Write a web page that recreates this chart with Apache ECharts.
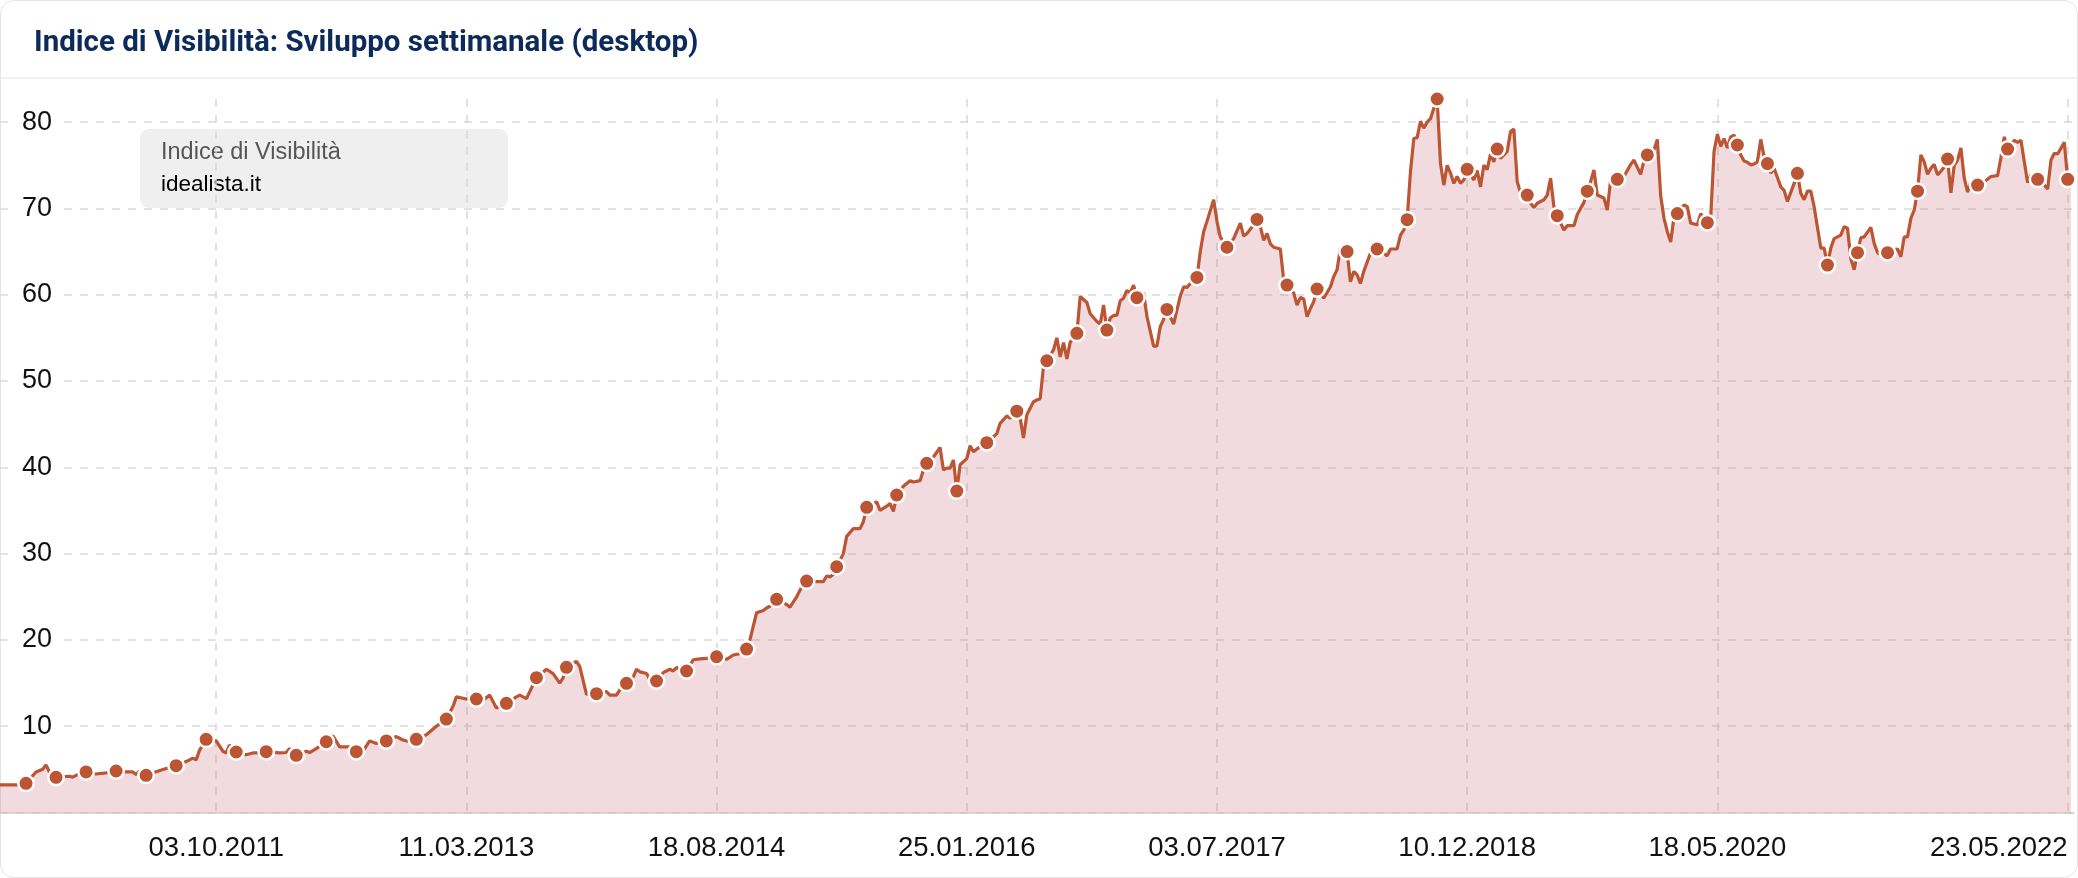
<!DOCTYPE html>
<html><head><meta charset="utf-8">
<script src="https://cdn.jsdelivr.net/npm/echarts@6/dist/echarts.min.js"></script>
<style>
html,body{margin:0;padding:0;background:#fff;}
#card{position:absolute;left:0;top:0;width:2076px;height:876px;border:1px solid #e4e4e4;border-radius:14px;background:#fff;}
#chart{position:absolute;left:0;top:0;width:2078px;height:878px;}
</style></head><body>
<div id="card"></div>
<div id="chart"></div>
<script>
// ---- data ----
const titleText = 'Indice di Visibilità: Sviluppo settimanale (desktop)';
const legendTitle = 'Indice di Visibilità';
const seriesName = 'idealista.it';
const firstWeek = [2010, 7, 5];          // first weekly data point (Monday)
const markerStart = 8, markerStep = 9;   // weeks that carry a dot
const tickDates = ['03.10.2011','11.03.2013','18.08.2014','25.01.2016','03.07.2017','10.12.2018','18.05.2020','23.05.2022'];
const yTicks = [10,20,30,40,50,60,70,80];
// [week index, visibility index]
const points = [
[0,3.2],[6,3.2],[8,3.38],[11,4.7],[13,5.0],[14,5.5],[15,4.7],[17,4.08],[21,4.2],[22,4.1],[24,4.5],[26,4.7],[29,4.46],[32,4.6],[35,4.81],[38,4.7],[40,4.7],[41,4.4],[42,4.8],[44,4.31],[47,4.73],[50,5.1],[53,5.43],[56,5.9],[58,6.3],[59,6.1],[60,7.2],[62,8.48],[65,8.3],[67,7.1],[68,6.9],[69,7.8],[71,7.01],[74,6.7],[76,6.9],[78,6.9],[80,7.05],[84,6.9],[86,6.95],[87,7.4],[89,6.63],[92,7.1],[93,6.95],[95,7.4],[98,8.2],[100,8.9],[102,7.6],[105,7.6],[107,7.05],
[108,6.5],[111,8.3],[113,8.0],[116,8.29],[119,8.8],[121,8.4],[123,8.2],[125,8.48],[128,9.0],[131,10.0],[134,10.83],[136,12.3],[137,13.4],[140,13.15],[143,13.15],[145,13.0],[147,13.6],[149,12.1],[152,12.65],[155,13.4],[156,13.6],[158,13.2],[160,14.8],[161,15.62],[164,16.6],[166,16.1],[168,15.0],[169,15.6],[170,16.82],[173,17.5],[174,16.9],[176,13.7],[179,13.77],[182,14.0],[183,13.6],[185,13.6],[186,14.2],[188,14.97],[190,15.7],[191,16.6],[192,16.3],[194,16.1],[195,15.4],[197,15.24],[199,16.2],[201,16.6],[202,16.4],[203,16.8],[204,16.6],[206,16.4],[208,17.7],[210,17.8],[212,17.85],[213,17.95],[215,18.05],
[218,17.75],[220,18.25],[222,18.4],[224,18.94],[225,20.0],[227,23.15],[229,23.4],[230,23.7],[231,23.9],[233,24.7],[236,24.1],[237,23.8],[239,25.0],[241,26.5],[242,26.82],[245,26.75],[247,26.75],[248,27.4],[249,27.3],[250,27.6],[251,28.48],[253,30.0],[254,32.0],[256,32.9],[258,32.9],[259,33.7],[260,35.36],[263,36.0],[264,35.0],[266,35.5],[267,35.8],[268,34.9],[269,36.79],[271,37.8],[273,38.45],[274,38.3],[276,38.45],[277,39.7],[278,40.46],[280,41.2],[282,42.3],[283,39.7],[284,39.9],[285,39.9],[286,40.85],[287,37.25],[288,40.3],[290,41.0],[291,42.5],[292,41.8],[294,42.4],[296,42.85],[299,43.9],[300,45.1],[302,45.95],[303,45.7],[305,46.5],
[306,45.7],[307,43.4],[308,46.1],[310,47.6],[311,47.8],[312,47.95],[313,51.7],[314,52.35],[316,53.6],[317,55.0],[318,52.8],[319,54.45],[320,52.55],[321,54.5],[323,55.53],[324,59.8],[326,59.1],[327,57.8],[329,56.9],[330,56.6],[331,58.8],[332,55.9],[333,57.3],[334,57.6],[335,57.6],[336,59.3],[337,59.6],[338,60.5],[339,60.2],[340,61.1],[341,59.66],[343,60.2],[344,57.5],[346,54.05],[347,54.05],[348,56.3],[349,57.15],[350,58.3],[352,56.6],[354,59.85],[355,60.9],[356,60.85],[357,61.3],[359,62.0],[360,65.0],[361,67.3],[362,68.5],[364,71.0],[365,68.5],[366,66.7],[367,66.1],[368,65.5],[370,66.5],[372,68.3],[373,66.8],[374,67.1],[376,68.1],[377,68.73],[378,67.9],[379,66.3],[380,67.1],[381,65.9],[382,65.5],[384,65.3],[385,61.7],[386,61.12],[388,60.2],[389,58.8],[390,59.7],[391,59.5],[392,57.45],[393,58.4],[394,59.2],[395,60.66],
[397,59.6],[399,60.9],[400,62.1],[401,62.9],[402,65.4],[404,65.0],[405,61.5],[406,62.7],[407,62.3],[408,61.3],[409,62.7],[411,64.8],[413,65.3],[415,64.8],[416,64.5],[417,65.3],[419,65.3],[420,66.9],[421,67.5],[422,68.7],[423,74.25],[424,78.1],[425,78.2],[426,80.1],[427,79.3],[428,80.0],[429,80.4],[430,81.6],[431,82.68],[432,75.2],[433,72.7],[434,75.0],[435,74.1],[436,72.9],[437,73.7],[438,72.9],[439,73.3],[440,74.53],[442,73.3],[443,74.4],[444,72.5],[445,75.0],[446,74.5],[447,76.3],[448,75.4],[449,76.88],[450,75.8],[452,76.6],[453,78.9],[454,79.2],[455,73.1],[456,71.8],[458,71.55],[459,70.6],[460,70.1],[461,70.6],[463,71.0],[464,71.55],[465,73.5],[466,70.2],[467,69.16],[469,67.5],[470,68.0],[472,68.0],[473,69.3],[475,70.7],[476,72.0],[477,73.1],[478,74.45],[479,71.55],[481,71.2],[482,69.8],[483,73.3],[484,72.7],[485,73.37],[487,73.7],[489,75.1],[490,75.6],[492,73.95],[493,75.5],[494,76.2],[496,76.8],[497,78.0],[498,71.5],[499,68.85],[500,67.3],[501,66.1],[502,69.0],[503,69.4],[505,70.4],[506,70.2],[507,68.3],[509,68.1],[510,69.4],[511,68.85],[512,68.35],
[513,69.0],[514,76.6],[515,78.6],[516,77.2],[517,78.1],[518,77.0],[519,78.3],[520,78.5],[521,77.35],[522,76.2],[523,75.5],[524,75.35],[525,75.05],[526,75.15],[527,75.4],[528,78.0],[529,76.0],[530,75.2],[531,74.1],[532,74.65],[534,72.5],[535,72.1],[536,70.8],[538,72.9],[539,74.07],[540,71.75],[541,71.0],[542,72.0],[543,72.0],[544,70.2],[546,65.4],[547,65.4],[548,63.44],[549,65.4],[550,66.5],[552,66.9],[553,67.9],[554,67.7],[555,64.2],[556,62.9],[557,64.87],[558,66.6],[559,66.7],[561,67.8],[562,65.95],[563,64.9],[564,64.6],[566,64.87],[568,65.2],[569,65.3],[570,64.4],[571,66.7],[572,66.7],[573,68.85],[574,69.8],[575,72.0],[576,76.2],[577,75.4],[578,73.95],[579,74.65],[580,75.1],[581,73.9],[582,74.3],[583,74.8],[584,75.72],[585,71.8],[586,75.0],[587,75.6],[588,77.0],[589,73.5],[590,71.9],[591,73.1],[593,72.7],[595,73.1],[597,73.7],[599,73.8],[600,75.9],[601,78.3],[602,76.88],[604,77.9],[605,77.65],[606,77.9],[607,75.4],[608,73.0],[609,73.9],[611,73.37],[613,72.7],[614,72.25],[615,75.6],[616,76.4],[617,76.3],[619,77.65],[620,73.37],[621,73.3]
];

// ---- helpers ----
const DAY = 86400000;
const t0 = Date.UTC(firstWeek[0], firstWeek[1]-1, firstWeek[2]);
const weekTime = w => t0 + w * 7 * DAY;
const parseDMY = s => { const p = s.split('.'); return Date.UTC(+p[2], +p[1]-1, +p[0]); };
const pad = n => (n < 10 ? '0' : '') + n;
const fmt = v => { const d = new Date(v); return pad(d.getUTCDate()) + '.' + pad(d.getUTCMonth()+1) + '.' + d.getUTCFullYear(); };
const tickTimes = tickDates.map(parseDMY);
const yMax = Math.max.apply(null, points.map(p => p[1]));

const lineColor = '#bb5533';
const seriesData = points.map(p => ({
  value: [weekTime(p[0]), p[1]],
  symbol: ((p[0] - markerStart) % markerStep === 0 && p[0] >= markerStart) ? 'circle' : 'none'
}));

const gridLineColors = yTicks.map(() => '#dadada');
gridLineColors.unshift('#dadada');
gridLineColors.push('rgba(0,0,0,0)');

const chart = echarts.init(document.getElementById('chart'), null, {renderer: 'canvas'});
chart.setOption({
  animation: false,
  backgroundColor: 'transparent',
  title: {
    text: titleText, left: 29, top: 24,
    textStyle: {fontFamily: 'Roboto', fontWeight: 'bold', fontSize: 29.5, color: '#0c2a5a'}
  },
  grid: {left: 0, right: 4, top: 99, bottom: 65.5, containLabel: false, outerBoundsMode: 'none'},
  xAxis: {
    type: 'value',
    min: weekTime(0.2), max: weekTime(621.9),
    axisLine: {show: true, lineStyle: {color: '#d6c6c9', width: 1.5}},
    axisTick: {show: false, customValues: tickTimes},
    axisLabel: {
      customValues: tickTimes, formatter: v => fmt(v), alignMaxLabel: 'right',
      fontFamily: 'Liberation Sans, Arial', fontSize: 27.5, color: '#111', margin: 22
    },
    splitLine: {show: true, lineStyle: {color: '#d8d8d8', width: 1.5, type: [8, 8]}}
  },
  yAxis: {
    type: 'value', min: 0, max: yMax, interval: 10,
    axisLine: {show: false}, axisTick: {show: false},
    axisLabel: {
      inside: true, margin: 16, showMinLabel: false, showMaxLabel: false,
      formatter: v => (v > 0 && v % 10 === 0) ? String(v) : '',
      fontFamily: 'Liberation Sans, Arial', fontSize: 27, color: '#111',
      backgroundColor: '#fff', padding: [2, 6], verticalAlign: 'middle'
    },
    splitLine: {show: true, lineStyle: {color: gridLineColors, width: 1.5, type: [8, 8]}}
  },
  graphic: [
    {type: 'line', shape: {x1: 0, y1: 78, x2: 2078, y2: 78}, style: {stroke: '#ececec', lineWidth: 1.5}, silent: true},
    {type: 'group', left: 140, top: 129, z: 100, children: [
      {type: 'rect', shape: {x: 0, y: 0, width: 368, height: 79, r: 9}, style: {fill: '#efefef'}},
      {type: 'text', x: 21, y: 24, style: {text: legendTitle, fill: '#555', font: '23.5px "Liberation Sans", Arial', textVerticalAlign: 'middle'}},
      {type: 'text', x: 21, y: 56, style: {text: seriesName, fill: '#000', font: '22.5px "Liberation Sans", Arial', textVerticalAlign: 'middle'}}
    ]}
  ],
  series: [{
    name: seriesName,
    type: 'line',
    data: seriesData,
    clip: false,
    showSymbol: true,
    symbolSize: 15.5,
    lineStyle: {color: lineColor, width: 3.2},
    itemStyle: {color: lineColor, borderColor: '#fff', borderWidth: 2.5},
    areaStyle: {color: 'rgba(196, 98, 115, 0.23)', opacity: 1, origin: 'start'},
    emphasis: {disabled: true}
  }]
});
</script>
</body></html>
